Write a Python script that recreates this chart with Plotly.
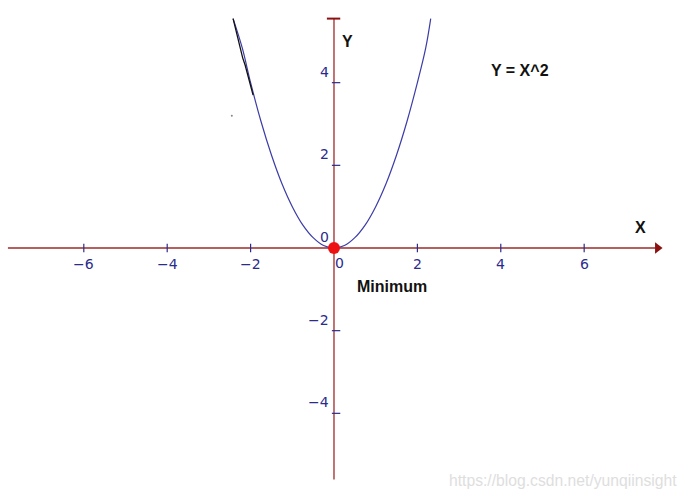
import plotly.graph_objects as go

# Curve points (Y = X^2)
curve_x = [-2.42, -2.2, -2.0, -1.75, -1.5, -1.25, -1.0, -0.75, -0.5, -0.25, 0.0,
           0.25, 0.5, 0.75, 1.0, 1.25, 1.5, 1.75, 2.0, 2.2, 2.32]
curve_y = [5.55, 4.84, 4.0, 3.06, 2.25, 1.56, 1.0, 0.56, 0.25, 0.06, 0.0,
           0.06, 0.25, 0.56, 1.0, 1.56, 2.25, 3.06, 4.0, 4.84, 5.55]
# Hand-drawn black stroke over the upper-left branch
stroke_x = [-2.42, -2.36, -2.3, -2.24, -2.19, -2.13, -2.07, -2.0, -1.94]
stroke_y = [5.55, 5.3, 5.05, 4.82, 4.6, 4.42, 4.2, 3.95, 3.7]

x_ticks = [-6, -4, -2, 2, 4, 6]
x_tick_labels = ["\u22126", "\u22124", "\u22122", "2", "4", "6"]
y_ticks = [4, 2, -2, -4]
y_tick_labels = ["4", "2", "\u22122", "\u22124"]

minimum_x = [0]
minimum_y = [0]

AXIS_RED = "#9e2a2a"
NAVY = "#2b2b8c"
CURVE = "#3c3ca8"

fig = go.Figure()

# axes
fig.add_trace(go.Scatter(x=[-7.82, 7.72], y=[0, 0], mode="lines",
                         line=dict(color=AXIS_RED, width=1.3), hoverinfo="skip"))
fig.add_trace(go.Scatter(x=[7.76], y=[0], mode="markers",
                         marker=dict(symbol="triangle-right", size=10, color="#8b1010"),
                         hoverinfo="skip"))
fig.add_trace(go.Scatter(x=[0, 0], y=[-5.6, 5.55], mode="lines",
                         line=dict(color=AXIS_RED, width=1.3), hoverinfo="skip"))
fig.add_trace(go.Scatter(x=[-0.17, 0.15], y=[5.55, 5.55], mode="lines",
                         line=dict(color="#8b1010", width=2), hoverinfo="skip"))

# ticks
fig.add_trace(go.Scatter(x=x_ticks, y=[0] * len(x_ticks), mode="markers",
                         marker=dict(symbol="line-ns", size=6,
                                     line=dict(color=NAVY, width=1.2)),
                         hoverinfo="skip"))
fig.add_trace(go.Scatter(x=[0.05] * len(y_ticks), y=y_ticks, mode="markers",
                         marker=dict(symbol="line-ew", size=6,
                                     line=dict(color=NAVY, width=1.2)),
                         hoverinfo="skip"))

# curve
fig.add_trace(go.Scatter(x=curve_x, y=curve_y, mode="lines",
                         line=dict(color=CURVE, width=1.2, shape="spline"),
                         hoverinfo="skip"))
fig.add_trace(go.Scatter(x=stroke_x, y=stroke_y, mode="lines",
                         line=dict(color="#111111", width=1.3), hoverinfo="skip"))
fig.add_trace(go.Scatter(x=[-2.45], y=[3.2], mode="markers",
                         marker=dict(size=2, color="#888888"), hoverinfo="skip"))

# minimum point
fig.add_trace(go.Scatter(x=minimum_x, y=minimum_y, mode="markers",
                         marker=dict(size=12, color="#ee1111"), hoverinfo="skip"))

annotations = []
tick_font = dict(family="DejaVu Sans", size=14, color=NAVY)
for xv, lab in zip(x_ticks, x_tick_labels):
    annotations.append(dict(x=xv, y=0, xref="x", yref="y", text=lab, showarrow=False,
                            font=tick_font, yshift=-16))
annotations.append(dict(x=0, y=0, xref="x", yref="y", text="0", showarrow=False,
                        font=tick_font, yshift=-15, xshift=6))
for yv, lab in zip(y_ticks, y_tick_labels):
    annotations.append(dict(x=0, y=yv, xref="x", yref="y", text=lab, showarrow=False,
                            font=tick_font, xanchor="right", xshift=-3, yshift=11))
annotations.append(dict(x=0, y=0, xref="x", yref="y", text="0", showarrow=False,
                        font=tick_font, xanchor="right", xshift=-3, yshift=11))

label_font = dict(family="Liberation Sans, Arial, sans-serif", size=16, color="#111111")
annotations += [
    dict(x=4.45, y=4.3, xref="x", yref="y", text="<b>Y = X^2</b>", showarrow=False,
         font=label_font),
    dict(x=7.34, y=0.5, xref="x", yref="y", text="<b>X</b>", showarrow=False,
         font=label_font),
    dict(x=0.32, y=5.0, xref="x", yref="y", text="<b>Y</b>", showarrow=False,
         font=label_font),
    dict(x=1.4, y=-0.93, xref="x", yref="y", text="<b>Minimum</b>", showarrow=False,
         font=label_font),
    dict(x=0.819, y=0.032, xref="paper", yref="paper",
         text="https://blog.csdn.net/yunqiinsight", showarrow=False,
         xanchor="center", yanchor="middle",
         font=dict(family="Liberation Sans, Arial, sans-serif", size=15.7,
                   color="#dedede")),
]

fig.update_layout(
    width=688, height=496,
    margin=dict(l=0, r=0, t=0, b=0),
    paper_bgcolor="white", plot_bgcolor="white",
    showlegend=False,
    xaxis=dict(range=[-8.01, 8.49], visible=False, fixedrange=True),
    yaxis=dict(range=[-6.0, 6.0], visible=False, fixedrange=True),
    annotations=annotations,
)

fig.write_html("out.html", config={"displayModeBar": False},
               post_script="document.body.style.margin='0';document.body.style.overflow='hidden';")
